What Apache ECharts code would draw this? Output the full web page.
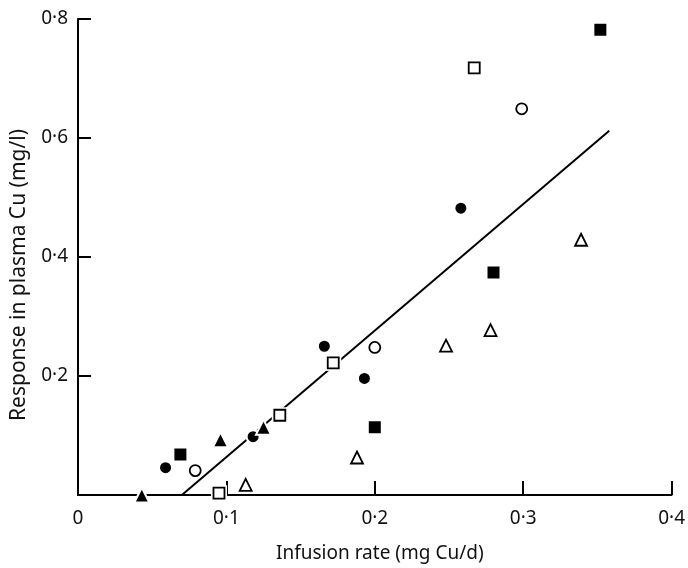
<!DOCTYPE html>
<html>
<head>
<meta charset="utf-8">
<script src="https://cdn.jsdelivr.net/npm/echarts@6/dist/echarts.min.js"></script>
<style>
html,body{margin:0;padding:0;background:#fff;}
#chart{width:688px;height:568px;}
</style>
</head>
<body>
<div id="chart"></div>
<script>
// x: infusion rate (mg Cu/d), y: response in plasma Cu (mg/l)
var filledCircle = [[0.059,0.046],[0.118,0.098],[0.166,0.250],[0.193,0.196],[0.258,0.482]];
var openCircle = [[0.079,0.041],[0.200,0.248],[0.299,0.649]];
var filledSquare = [[0.069,0.068],[0.200,0.114],[0.280,0.374],[0.352,0.782]];
var openSquare = [[0.095,0.003],[0.136,0.134],[0.172,0.222],[0.267,0.718]];
var filledTriangle = [[0.043,0.000],[0.096,0.093],[0.125,0.114]];
var openTriangle = [[0.113,0.017],[0.188,0.063],[0.248,0.251],[0.278,0.277],[0.339,0.429]];
var fitLine = [[0.070,0.000],[0.358,0.612]];
var xTicks = [0, 0.1, 0.2, 0.3, 0.4];
var yTicks = [0, 0.2, 0.4, 0.6, 0.8];

var FONT = '"Noto Sans", "Open Sans", sans-serif';
function fmt(v){ return v === 0 ? '0' : v.toFixed(1).replace('.', '\u00b7'); }

function filled(data, symbol, size){
  return {type:'scatter', data:data, symbol:symbol, symbolSize:size, z:5,
    itemStyle:{color:'#000', opacity:1, borderColor:'#fff', borderWidth:2}, silent:true};
}
function halo(data, symbol, size){
  return {type:'scatter', data:data, symbol:symbol, symbolSize:size+5, z:3,
    itemStyle:{color:'#fff', opacity:1}, silent:true};
}
function open(data, symbol, size){
  return {type:'scatter', data:data, symbol:symbol, symbolSize:size, z:4,
    itemStyle:{color:'#fff', opacity:1, borderColor:'#000', borderWidth:1.8}, silent:true};
}

var chart = echarts.init(document.getElementById('chart'));
chart.setOption({
  animation:false,
  backgroundColor:'#fff',
  grid:{left:78, right:14, top:19, bottom:68},
  xAxis:{
    type:'value', min:xTicks[0], max:xTicks[xTicks.length-1], interval:0.1,
    name:'Infusion rate (mg Cu/d)', nameLocation:'middle', nameGap:49,
    nameTextStyle:{fontFamily:FONT, fontSize:19, color:'#111', padding:[0,0,0,10]},
    axisLine:{lineStyle:{color:'#000', width:2}},
    axisTick:{inside:true, length:14, lineStyle:{color:'#000', width:2}},
    axisLabel:{fontFamily:FONT, fontSize:19, color:'#111', margin:14, formatter:fmt},
    splitLine:{show:false}
  },
  yAxis:{
    type:'value', min:yTicks[0], max:yTicks[yTicks.length-1], interval:0.2,
    name:'Response in plasma Cu (mg/l)', nameLocation:'middle', nameGap:48,
    nameTextStyle:{fontFamily:FONT, fontSize:21, color:'#111', padding:[0,36,0,0]},
    axisLine:{lineStyle:{color:'#000', width:2}},
    axisTick:{inside:true, length:13, lineStyle:{color:'#000', width:2}},
    axisLabel:{fontFamily:FONT, fontSize:19, color:'#111', margin:10,
      formatter:function(v){ return v === 0 ? '' : fmt(v); }},
    splitLine:{show:false}
  },
  series:[
    {type:'line', data:fitLine, symbol:'none', z:2, silent:true,
      lineStyle:{color:'#000', width:2}},
    halo(openCircle,'circle',11), open(openCircle,'circle',11),
    halo(openSquare,'rect',11), open(openSquare,'rect',11),
    halo(openTriangle,'triangle',12), open(openTriangle,'triangle',12),
    filled(filledCircle,'circle',13),
    filled(filledSquare,'rect',14),
    filled(filledTriangle,'triangle',15)
  ]
});
</script>
</body>
</html>
